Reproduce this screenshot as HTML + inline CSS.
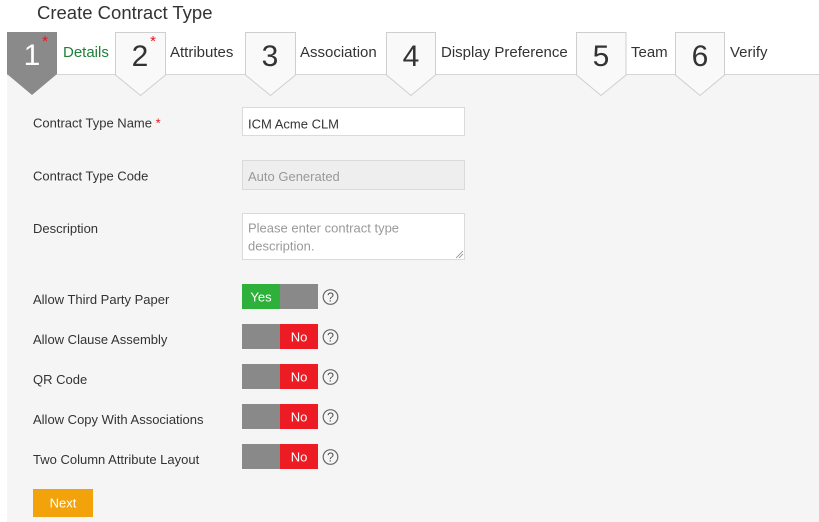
<!DOCTYPE html>
<html><head><meta charset="utf-8"><style>
html,body{margin:0;padding:0;background:#fff;}
svg{display:block;font-family:"Liberation Sans",sans-serif;}
</style></head><body>
<svg width="819" height="522" viewBox="0 0 819 522" xmlns="http://www.w3.org/2000/svg">
<rect x="0" y="0" width="819" height="522" fill="#fff"/>
<rect x="7" y="75" width="812" height="447" fill="#f5f5f5"/>
<line x1="7" y1="74.5" x2="819" y2="74.5" stroke="#d6d6d6" stroke-width="1"/>
<text x="37" y="19" font-size="18.5" fill="#333">Create Contract Type</text>

<!-- step 1 -->
<polygon points="7,32 57,32 57,74 32,95 7,74" fill="#8a8a8a"/>
<text x="32" y="65" font-size="30" fill="#fff" text-anchor="middle">1</text>
<text x="45" y="46" font-size="15" fill="#e8141c" text-anchor="middle">*</text>
<text x="63" y="57" font-size="15" fill="#1d8238">Details</text>

<!-- step 2 -->
<polygon points="115.5,32.5 165.5,32.5 165.5,75 140.5,95.5 115.5,75" fill="#f9f9f9" stroke="#cfcfcf"/>
<text x="140" y="66" font-size="30" fill="#333" text-anchor="middle">2</text>
<text x="153" y="46" font-size="15" fill="#e8141c" text-anchor="middle">*</text>
<text x="170" y="57" font-size="15" fill="#333">Attributes</text>

<!-- step 3 -->
<polygon points="245.5,32.5 295.5,32.5 295.5,75 270.5,95.5 245.5,75" fill="#f9f9f9" stroke="#cfcfcf"/>
<text x="270" y="66" font-size="30" fill="#333" text-anchor="middle">3</text>
<text x="300" y="57" font-size="15" fill="#333">Association</text>

<!-- step 4 -->
<polygon points="386.5,32.5 435.5,32.5 435.5,75 411,95.5 386.5,75" fill="#f9f9f9" stroke="#cfcfcf"/>
<text x="411" y="66" font-size="30" fill="#333" text-anchor="middle">4</text>
<text x="441" y="57" font-size="15" fill="#333">Display Preference</text>

<!-- step 5 -->
<polygon points="576.5,32.5 626,32.5 626,75 601,95.5 576.5,75" fill="#f9f9f9" stroke="#cfcfcf"/>
<text x="601" y="66" font-size="30" fill="#333" text-anchor="middle">5</text>
<text x="631" y="57" font-size="15" fill="#333">Team</text>

<!-- step 6 -->
<polygon points="675.5,32.5 724.5,32.5 724.5,75 700,95.5 675.5,75" fill="#f9f9f9" stroke="#cfcfcf"/>
<text x="700" y="66" font-size="30" fill="#333" text-anchor="middle">6</text>
<text x="730" y="57" font-size="15" fill="#333">Verify</text>

<!-- form labels -->
<g font-size="13" fill="#333">
<text x="33" y="127.5">Contract Type Name <tspan fill="#e8141c">*</tspan></text>
<text x="33" y="180.5">Contract Type Code</text>
<text x="33" y="233">Description</text>
<text x="33" y="304">Allow Third Party Paper</text>
<text x="33" y="344">Allow Clause Assembly</text>
<text x="33" y="384">QR Code</text>
<text x="33" y="424">Allow Copy With Associations</text>
<text x="33" y="464">Two Column Attribute Layout</text>
</g>

<!-- inputs -->
<rect x="242.5" y="107.5" width="222" height="28" fill="#fff" stroke="#dadada"/>
<text x="248" y="128.5" font-size="13" fill="#333">ICM Acme CLM</text>
<rect x="242.5" y="160.5" width="222" height="29" fill="#eeeeee" stroke="#dadada"/>
<text x="248" y="181" font-size="13" fill="#999">Auto Generated</text>
<rect x="242.5" y="213.5" width="222" height="46" fill="#fff" stroke="#dadada"/>
<text x="248" y="232.7" font-size="13" fill="#999">Please enter contract type</text>
<text x="248" y="250.5" font-size="13" fill="#999">description.</text>
<g stroke="#888" stroke-width="0.8">
<line x1="456" y1="258" x2="463" y2="251"/>
<line x1="459" y1="258" x2="463" y2="254"/>
</g>

<!-- toggles -->
<g font-size="13" fill="#fff" text-anchor="middle">
<rect x="242" y="284" width="38" height="25" fill="#2db13a"/>
<rect x="280" y="284" width="38" height="25" fill="#898989"/>
<text x="261" y="301.5">Yes</text>

<rect x="242" y="324" width="38" height="25" fill="#898989"/>
<rect x="280" y="324" width="38" height="25" fill="#ed1c24"/>
<text x="299" y="341.5">No</text>

<rect x="242" y="364" width="38" height="25" fill="#898989"/>
<rect x="280" y="364" width="38" height="25" fill="#ed1c24"/>
<text x="299" y="381.5">No</text>

<rect x="242" y="404" width="38" height="25" fill="#898989"/>
<rect x="280" y="404" width="38" height="25" fill="#ed1c24"/>
<text x="299" y="421.5">No</text>

<rect x="242" y="444" width="38" height="25" fill="#898989"/>
<rect x="280" y="444" width="38" height="25" fill="#ed1c24"/>
<text x="299" y="461.5">No</text>
</g>

<!-- help icons -->
<g fill="none" stroke="#666" stroke-width="1.2">
<circle cx="330.5" cy="297" r="7.3"/>
<circle cx="330.5" cy="337" r="7.3"/>
<circle cx="330.5" cy="377" r="7.3"/>
<circle cx="330.5" cy="417" r="7.3"/>
<circle cx="330.5" cy="457" r="7.3"/>
</g>
<g font-size="12.5" fill="#555" text-anchor="middle">
<text x="330.5" y="301.5">?</text>
<text x="330.5" y="341.5">?</text>
<text x="330.5" y="381.5">?</text>
<text x="330.5" y="421.5">?</text>
<text x="330.5" y="461.5">?</text>
</g>

<!-- next button -->
<rect x="33" y="489" width="60" height="28" fill="#f2a30c"/>
<text x="63" y="507.5" font-size="13" fill="#fff" text-anchor="middle">Next</text>
</svg>
</body></html>
